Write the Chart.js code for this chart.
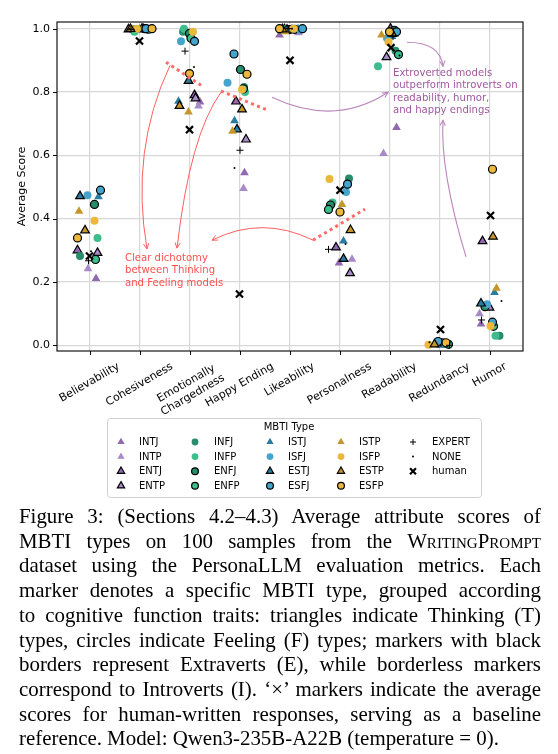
<!DOCTYPE html>
<html>
<head>
<meta charset="utf-8">
<script src="https://cdn.jsdelivr.net/npm/chart.js@4"></script>
<style>
html, body { margin: 0; padding: 0; background: #fff; }
#wrap { position: relative; width: 558px; height: 754px; overflow: hidden; }
#plot { position: absolute; left: 0; top: 0; }
#caption { position: absolute; left: 19px; top: 504px; width: 522px;
  font-family: "Liberation Serif", "DejaVu Serif", serif; font-size: 20.9px; line-height: 24.7px; color: #000; }
#caption div { text-align: justify; text-align-last: justify; }
#caption div.last { text-align-last: left; }
.sc { font-variant: small-caps; }
</style>
</head>
<body>
<div id="wrap">
  <canvas id="plot" width="558" height="505"></canvas>
  <div id="caption">
    <div>Figure 3: (Sections 4.2–4.3) Average attribute scores of</div>
    <div>MBTI types on 100 samples from the <span class="sc">WritingPrompt</span></div>
    <div>dataset using the PersonaLLM evaluation metrics. Each</div>
    <div>marker denotes a specific MBTI type, grouped according</div>
    <div>to cognitive function traits: triangles indicate Thinking (T)</div>
    <div>types, circles indicate Feeling (F) types; markers with black</div>
    <div>borders represent Extraverts (E), while borderless markers</div>
    <div>correspond to Introverts (I). ‘×’ markers indicate the average</div>
    <div>scores for human-written responses, serving as a baseline</div>
    <div class="last">reference. Model: Qwen3-235B-A22B (temperature = 0).</div>
  </div>
</div>
<script>
// categories along x, y ticks
const categories = ['Believability', 'Cohesiveness', ['Emotionally', 'Chargedness'], 'Happy Ending',
  'Likeability', 'Personalness', 'Readability', 'Redundancy', 'Humor'];
const yTicks = [0, 0.2, 0.4, 0.6, 0.8, 1.0];

// average scores per MBTI type (one value per category)
const intj = [0.211, 0.995, 0.768, 0.545, 0.980, 0.260, 0.688, 0.003, 0.067];
const intp = [0.242, 0.997, 0.756, 0.495, 0.987, 0.272, 0.606, 0.004, 0.100];
const entj = [0.300, 0.998, 0.790, 0.770, 0.995, 0.309, 1.000, 0.006, 0.329];
const entp = [0.292, 0.998, 0.780, 0.650, 0.998, 0.228, 0.910, 0.003, 0.119];
const infj = [0.282, 0.999, 0.990, 0.816, 0.996, 0.527, 0.930, 0.006, 0.030];
const infp = [0.339, 0.990, 1.000, 0.800, 0.999, 0.451, 0.881, 0.005, 0.030];
const enfj = [0.445, 1.000, 0.985, 0.871, 0.997, 0.443, 0.995, 0.008, 0.122];
const enfp = [0.271, 0.998, 0.970, 0.810, 0.998, 0.429, 0.918, 0.003, 0.060];
const istj = [0.469, 0.999, 0.771, 0.709, 1.000, 0.329, 0.975, 0.002, 0.167];
const isfj = [0.474, 0.997, 0.960, 0.829, 0.996, 0.484, 0.970, 0.005, 0.130];
const estj = [0.471, 1.000, 0.835, 0.682, 0.997, 0.273, 0.985, 0.006, 0.132];
const esfj = [0.490, 1.000, 0.960, 0.920, 1.000, 0.509, 0.990, 0.012, 0.073];
const istp = [0.423, 0.998, 0.737, 0.676, 0.990, 0.445, 0.980, 0.002, 0.180];
const isfp = [0.393, 1.000, 0.990, 0.808, 1.000, 0.525, 0.958, 0.002, 0.061];
const estp = [0.363, 0.999, 0.756, 0.745, 0.998, 0.364, 0.985, 0.003, 0.343];
const esfp = [0.339, 1.000, 0.858, 0.856, 1.000, 0.421, 0.990, 0.008, 0.556];
const expert = [0.267, 0.998, 0.929, 0.616, 1.000, 0.303, 0.975, 0.000, 0.080];
const none = [0.297, 1.000, 0.879, 0.560, 1.000, 0.320, 0.915, 0.010, 0.140];
const human = [0.282, 0.961, 0.681, 0.162, 0.900, 0.490, 0.940, 0.050, 0.410];

// horizontal jitter (in category units)
const intjJit = [0.13, -0.12, 0.21, 0.10, -0.20, -0.01, 0.14, 0.08, -0.17];
const intpJit = [-0.03, 0.15, 0.18, 0.08, 0.18, 0.25, -0.12, 0.12, -0.20];
const entjJit = [-0.24, 0.08, 0.10, -0.07, 0.05, -0.07, 0.02, 0.00, -0.14];
const entpJit = [0.16, -0.22, 0.12, 0.13, -0.10, 0.21, -0.06, 0.04, 0.00];
const infjJit = [-0.19, -0.08, -0.13, 0.09, -0.17, 0.19, 0.12, 0.10, 0.20];
const infpJit = [0.16, -0.10, -0.11, 0.11, -0.12, -0.14, -0.23, 0.16, 0.12];
const enfjJit = [0.10, 0.10, 0.00, 0.02, 0.00, -0.18, 0.10, 0.06, -0.09];
const enfpJit = [0.12, 0.18, 0.03, 0.08, 0.10, -0.22, 0.18, 0.18, 0.08];
const istjJit = [0.18, 0.00, -0.22, -0.10, 0.17, 0.08, 0.05, 0.05, 0.10];
const isfjJit = [-0.04, 0.20, -0.17, -0.24, 0.22, 0.13, -0.05, 0.02, -0.05];
const estjJit = [-0.19, 0.05, -0.02, -0.05, -0.05, 0.08, 0.08, -0.05, -0.17];
const esfjJit = [0.22, 0.13, 0.10, -0.11, 0.26, 0.16, 0.14, -0.03, 0.06];
const istpJit = [-0.21, -0.15, -0.02, -0.14, -0.09, 0.05, -0.16, -0.08, 0.14];
const isfpJit = [0.10, -0.05, 0.07, 0.05, 0.08, -0.20, -0.02, -0.22, 0.02];
const estpJit = [-0.09, -0.18, -0.20, 0.05, -0.14, 0.22, 0.05, -0.10, 0.07];
const esfpJit = [-0.24, 0.25, 0.00, 0.15, -0.20, 0.01, 0.00, 0.13, 0.06];
const expertJit = [-0.02, -0.17, -0.09, 0.01, -0.03, -0.22, 0.07, 0.20, -0.16];
const noneJit = [0.03, -0.20, 0.09, -0.10, 0.05, 0.12, 0.20, -0.20, 0.24];
const humanJit = [0.00, 0.00, 0.00, 0.00, 0.01, 0.01, 0.03, 0.02, 0.02];

const seriesNames = ['INTJ', 'INTP', 'ENTJ', 'ENTP', 'INFJ', 'INFP', 'ENFJ', 'ENFP',
  'ISTJ', 'ISFJ', 'ESTJ', 'ESFJ', 'ISTP', 'ISFP', 'ESTP', 'ESFP', 'EXPERT', 'NONE', 'human'];
const seriesScores = [intj, intp, entj, entp, infj, infp, enfj, enfp,
  istj, isfj, estj, esfj, istp, isfp, estp, esfp, expert, none, human];
const seriesJitter = [intjJit, intpJit, entjJit, entpJit, infjJit, infpJit, enfjJit, enfpJit,
  istjJit, isfjJit, estjJit, esfjJit, istpJit, isfpJit, estpJit, esfpJit, expertJit, noneJit, humanJit];
const seriesColors = ['#9169b0', '#a98ac9', '#9169b0', '#a98ac9', '#268c6c', '#3dbc8c', '#268c6c', '#3dbc8c',
  '#2a7c9e', '#44a4cc', '#2a7c9e', '#44a4cc', '#c4962c', '#ebb83c', '#c4962c', '#ebb83c', '#000', '#000', '#000'];

// annotations, in data units [x, y]
const redDotted = [[[1.53, 0.894], [2.29, 0.815]], [[2.63, 0.803], [3.57, 0.742]], [[4.47, 0.332], [5.51, 0.430]]];
const redArrows = [[[1.61, 0.884], [0.81, 0.616], [1.15, 0.304]],
  [[2.63, 0.799], [2.01, 0.664], [1.75, 0.307]],
  [[4.47, 0.332], [3.45, 0.411], [2.45, 0.332]]];
const purpleArrows = [[[3.65, 0.783], [4.91, 0.689], [5.97, 0.799]],
  [[6.35, 0.957], [7.01, 0.957], [7.07, 0.881]],
  [[7.53, 0.279], [7.01, 0.553], [7.07, 0.711]]];
const redNote = ['Clear dichotomy', 'between Thinking', 'and Feeling models'];
const redNoteAt = [0.71, 0.275];
const purpleNote = ['Extroverted models', 'outperform introverts on', 'readability, humor,', 'and happy endings'];
const purpleNoteAt = [6.07, 0.86];

const fam = '"DejaVu Sans", sans-serif';

function markerStyle(name, color) {
    if (name === 'human') return { pointStyle: 'crossRot', pointRadius: 5, backgroundColor: '#000', borderColor: '#000', borderWidth: 2.2 };
    if (name === 'EXPERT') return { pointStyle: 'cross', pointRadius: 3.5, backgroundColor: '#000', borderColor: '#000', borderWidth: 1 };
    if (name === 'NONE') return { pointStyle: 'circle', pointRadius: 1, backgroundColor: '#000', borderColor: '#000', borderWidth: 0 };
    const tri = name[2] === 'T';
    const ext = name[0] === 'E';
    return {
        pointStyle: tri ? 'triangle' : 'circle',
        pointRadius: tri ? 5 : 4,
        backgroundColor: color,
        borderColor: '#000',
        borderWidth: ext ? 1.2 : 0
    };
}

const datasets = seriesNames.map(function(name, i) {
    const st = markerStyle(name, seriesColors[i]);
    return Object.assign({
        label: name,
        data: seriesScores[i].map((v, k) => ({ x: k + seriesJitter[i][k], y: v })),
        order: seriesNames.length - i,
        showLine: false
    }, st);
});

// simple marker drawing for the legend (same shapes as chart.js)
function drawMarker(ctx, st, x, y, r) {
    ctx.save();
    ctx.fillStyle = st.backgroundColor;
    ctx.strokeStyle = st.borderColor;
    ctx.lineWidth = st.borderWidth;
    ctx.beginPath();
    if (st.pointStyle === 'triangle') {
        for (let k = 0; k < 3; k++) {
            const a = k * 2 * Math.PI / 3;
            const px = x + Math.sin(a) * r, py = y - Math.cos(a) * r;
            if (k === 0) ctx.moveTo(px, py); else ctx.lineTo(px, py);
        }
        ctx.closePath();
        ctx.fill();
        if (st.borderWidth > 0) ctx.stroke();
    } else if (st.pointStyle === 'circle') {
        ctx.arc(x, y, r, 0, Math.PI * 2);
        ctx.fill();
        if (st.borderWidth > 0) ctx.stroke();
    } else if (st.pointStyle === 'cross') {
        ctx.moveTo(x - r, y); ctx.lineTo(x + r, y);
        ctx.moveTo(x, y - r); ctx.lineTo(x, y + r);
        ctx.stroke();
    } else {
        const d = r * Math.SQRT1_2;
        ctx.moveTo(x - d, y - d); ctx.lineTo(x + d, y + d);
        ctx.moveTo(x - d, y + d); ctx.lineTo(x + d, y - d);
        ctx.stroke();
    }
    ctx.restore();
}

function arrowHead(ctx, x, y, ang, size) {
    ctx.beginPath();
    ctx.moveTo(x - size * Math.cos(ang - 0.45), y - size * Math.sin(ang - 0.45));
    ctx.lineTo(x, y);
    ctx.lineTo(x - size * Math.cos(ang + 0.45), y - size * Math.sin(ang + 0.45));
    ctx.stroke();
}

// border, tick marks and rotated category labels
const framePlugin = {
    id: 'frame',
    afterDraw(chart) {
        const ctx = chart.ctx, a = chart.chartArea;
        const xs = chart.scales.x, ys = chart.scales.y;
        ctx.save();
        ctx.strokeStyle = '#000';
        ctx.lineWidth = 1.1;
        ctx.strokeRect(a.left, a.top, a.right - a.left, a.bottom - a.top);
        ctx.lineWidth = 1;
        ctx.beginPath();
        categories.forEach((c, i) => {
            const px = Math.round(xs.getPixelForValue(i)) + 0.5;
            ctx.moveTo(px, a.bottom); ctx.lineTo(px, a.bottom + 4);
        });
        yTicks.forEach(v => {
            const py = Math.round(ys.getPixelForValue(v)) + 0.5;
            ctx.moveTo(a.left - 4, py); ctx.lineTo(a.left, py);
        });
        ctx.stroke();

        ctx.fillStyle = '#000';
        ctx.font = '11px ' + fam;
        ctx.textAlign = 'center';
        ctx.textBaseline = 'middle';
        const ang = 30 * Math.PI / 180, lh = 13.2;
        categories.forEach((lab, i) => {
            const lines = Array.isArray(lab) ? lab : [lab];
            const w = Math.max(...lines.map(l => ctx.measureText(l).width));
            const h = lines.length * lh;
            const bbH = w * Math.sin(ang) + h * Math.cos(ang);
            ctx.save();
            ctx.translate(xs.getPixelForValue(i), a.bottom + 9 + bbH / 2);
            ctx.rotate(-ang);
            lines.forEach((l, k) => ctx.fillText(l, 0, (k - (lines.length - 1) / 2) * lh));
            ctx.restore();
        });
        ctx.restore();
    }
};

// red / purple notes drawn over the points
const notesPlugin = {
    id: 'notes',
    afterDatasetsDraw(chart) {
        const ctx = chart.ctx;
        const xs = chart.scales.x, ys = chart.scales.y;
        const P = p => [xs.getPixelForValue(p[0]), ys.getPixelForValue(p[1])];
        ctx.save();

        ctx.strokeStyle = '#ff6b6b';
        ctx.lineWidth = 3;
        ctx.setLineDash([3, 3.5]);
        redDotted.forEach(seg => {
            const p0 = P(seg[0]), p1 = P(seg[1]);
            ctx.beginPath(); ctx.moveTo(p0[0], p0[1]); ctx.lineTo(p1[0], p1[1]); ctx.stroke();
        });
        ctx.setLineDash([]);

        function curve(pts, color, lw) {
            const p0 = P(pts[0]), c = P(pts[1]), p2 = P(pts[2]);
            ctx.strokeStyle = color;
            ctx.lineWidth = lw;
            ctx.beginPath(); ctx.moveTo(p0[0], p0[1]); ctx.quadraticCurveTo(c[0], c[1], p2[0], p2[1]); ctx.stroke();
            arrowHead(ctx, p2[0], p2[1], Math.atan2(p2[1] - c[1], p2[0] - c[0]), 6);
        }
        redArrows.forEach(pts => curve(pts, '#ff5e5e', 1));
        purpleArrows.forEach(pts => curve(pts, '#bb86bb', 1.1));

        ctx.font = '10.1px ' + fam;
        ctx.textAlign = 'left';
        ctx.textBaseline = 'middle';
        ctx.fillStyle = '#ff4f4f';
        let p = P(redNoteAt);
        redNote.forEach((t, k) => ctx.fillText(t, p[0], p[1] + k * 12.6));
        ctx.fillStyle = '#a0589f';
        p = P(purpleNoteAt);
        purpleNote.forEach((t, k) => ctx.fillText(t, p[0], p[1] + k * 12.6));
        ctx.restore();
    }
};

// boxed legend, 4 rows filled column by column
const legendPlugin = {
    id: 'mbtiLegend',
    afterDraw(chart) {
        const ctx = chart.ctx;
        const box = { l: 107, t: 418, r: 481, b: 497 };
        ctx.save();
        ctx.fillStyle = '#fff';
        ctx.strokeStyle = '#d0d0d0';
        ctx.lineWidth = 1;
        ctx.beginPath();
        ctx.roundRect(box.l + 0.5, box.t + 0.5, box.r - box.l, box.b - box.t, 3);
        ctx.fill(); ctx.stroke();
        ctx.fillStyle = '#000';
        ctx.font = '10px ' + fam;
        ctx.textAlign = 'center';
        ctx.textBaseline = 'middle';
        ctx.fillText('MBTI Type', 289, 427);
        ctx.textAlign = 'left';
        const markX = [121, 195, 270, 341, 413];
        const textX = [139, 214, 288, 359, 432];
        chart.data.datasets.forEach((ds, i) => {
            const col = Math.floor(i / 4), row = i % 4;
            const y = 442 + row * 14.6;
            let r = ds.pointStyle === 'triangle' ? 4.2 : ds.pointStyle === 'circle' ? 3.4 : 3;
            if (ds.label === 'NONE') r = 1;
            if (ds.label === 'human') r = 4.2;
            drawMarker(ctx, ds, markX[col], y, r);
            ctx.fillStyle = '#000';
            ctx.fillText(ds.label, textX[col], y + 0.5);
        });
        ctx.restore();
    }
};

new Chart(document.getElementById('plot'), {
    type: 'scatter',
    data: { datasets: datasets },
    options: {
        responsive: false,
        animation: false,
        events: [],
        layout: { padding: { top: 22, right: 35, bottom: 0, left: 0 } },
        plugins: { legend: { display: false }, tooltip: { enabled: false } },
        scales: {
            x: {
                type: 'linear',
                min: -0.65,
                max: 8.67,
                afterBuildTicks: s => { s.ticks = categories.map((c, i) => ({ value: i })); },
                afterFit: s => { s.height = 154; },
                ticks: { display: false },
                grid: { color: '#d8d8d8', lineWidth: 1.2, drawTicks: false },
                border: { display: false }
            },
            y: {
                min: -0.018,
                max: 1.021,
                afterBuildTicks: s => { s.ticks = yTicks.map(v => ({ value: v })); },
                afterFit: s => { s.width = 57; },
                ticks: {
                    callback: v => v.toFixed(1),
                    color: '#000',
                    font: { family: fam, size: 11 },
                    padding: 7
                },
                grid: { color: '#d8d8d8', lineWidth: 1.2, drawTicks: false },
                border: { display: false },
                title: {
                    display: true,
                    text: 'Average Score',
                    color: '#000',
                    font: { family: fam, size: 11 },
                    padding: { top: 16, bottom: 0 }
                }
            }
        }
    },
    plugins: [framePlugin, notesPlugin, legendPlugin]
});
</script>
</body>
</html>
